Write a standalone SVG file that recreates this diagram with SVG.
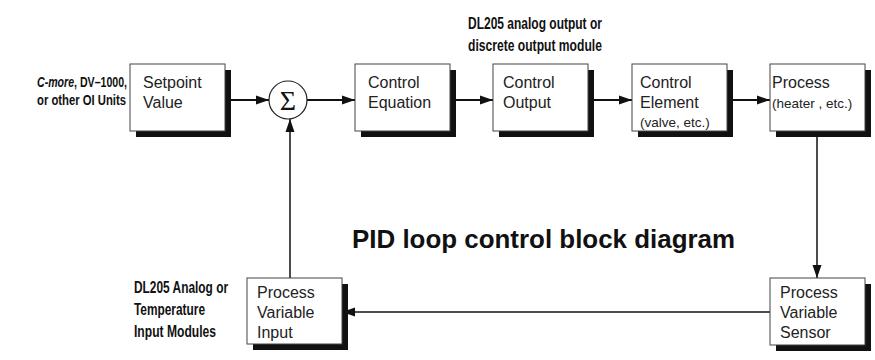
<svg xmlns="http://www.w3.org/2000/svg" width="875" height="360" viewBox="0 0 875 360">
<style>
.box{fill:#fff;stroke:#444;stroke-width:1}
.sh{fill:#111}
.t{font-family:"Liberation Sans",Arial,sans-serif;font-size:16px;fill:#222}
.s{font-family:"Liberation Sans",Arial,sans-serif;font-size:13.5px;fill:#222}
.lab{font-family:"Liberation Sans",Arial,sans-serif;font-size:16px;font-weight:bold;fill:#111}
.lab2{font-family:"Liberation Sans",Arial,sans-serif;font-size:15px;font-weight:bold;fill:#111}
.c{stroke:#111;stroke-width:2;fill:none}
.c1{stroke:#111;stroke-width:1.5;fill:none}
</style>
<defs>
<marker id="ah" markerUnits="userSpaceOnUse" markerWidth="14" markerHeight="10" refX="13" refY="5" orient="auto">
<path d="M0,0.5 L13,5 L0,9.5 z" fill="#111"/>
</marker>
</defs>
<rect width="875" height="360" fill="#fff"/>

<g id="labels">
<text class="lab2" transform="translate(37,87) scale(0.72,1)" textLength="125" lengthAdjust="spacingAndGlyphs"><tspan font-style="italic">C-more</tspan>, DV–1000,</text>
<text class="lab2" transform="translate(37,105) scale(0.72,1)" textLength="123.6" lengthAdjust="spacingAndGlyphs">or other OI Units</text>
<text class="lab" transform="translate(468,29) scale(0.72,1)" textLength="186" lengthAdjust="spacingAndGlyphs">DL205 analog output or</text>
<text class="lab" transform="translate(468,51) scale(0.72,1)" textLength="186" lengthAdjust="spacingAndGlyphs">discrete output module</text>
<text class="lab" transform="translate(134,293) scale(0.72,1)" textLength="130.6" lengthAdjust="spacingAndGlyphs">DL205 Analog or</text>
<text class="lab" transform="translate(134,315) scale(0.72,1)" textLength="98.6" lengthAdjust="spacingAndGlyphs">Temperature</text>
<text class="lab" transform="translate(134,337) scale(0.72,1)" textLength="113.9" lengthAdjust="spacingAndGlyphs">Input Modules</text>
<text x="352" y="248" font-family="Liberation Sans,Arial,sans-serif" font-size="25" font-weight="bold" fill="#111" textLength="383" lengthAdjust="spacingAndGlyphs">PID loop control block diagram</text>
</g>

<g id="connectors">
<line class="c" x1="225" y1="100" x2="269" y2="100" marker-end="url(#ah)"/>
<line class="c" x1="307" y1="100" x2="355" y2="100" marker-end="url(#ah)"/>
<line class="c" x1="450" y1="100" x2="493" y2="100" marker-end="url(#ah)"/>
<line class="c" x1="588" y1="100" x2="632" y2="100" marker-end="url(#ah)"/>
<line class="c" x1="727" y1="100" x2="770" y2="100" marker-end="url(#ah)"/>
<line class="c1" x1="817" y1="131" x2="817" y2="278" marker-end="url(#ah)"/>
<line class="c1" x1="770" y1="312" x2="342" y2="312" marker-end="url(#ah)"/>
<line class="c1" x1="290" y1="278" x2="290" y2="119" marker-end="url(#ah)"/>
</g>

<g id="setpoint">
<rect class="sh" x="136" y="70" width="95" height="67"/>
<rect class="box" x="130" y="64" width="95" height="67"/>
<text class="t" x="143" y="88">Setpoint</text>
<text class="t" x="143" y="108">Value</text>
</g>

<g id="sum">
<circle cx="288" cy="100" r="19" fill="#fff" stroke="#222" stroke-width="1.2"/>
<text x="288" y="110" text-anchor="middle" font-family="Liberation Serif,serif" font-size="28" fill="#111">Σ</text>
</g>

<g id="control-equation">
<rect class="sh" x="361" y="70" width="95" height="67"/>
<rect class="box" x="355" y="64" width="95" height="67"/>
<text class="t" x="368" y="88">Control</text>
<text class="t" x="368" y="108">Equation</text>
</g>

<g id="control-output">
<rect class="sh" x="499" y="70" width="95" height="67"/>
<rect class="box" x="493" y="64" width="95" height="67"/>
<text class="t" x="503" y="88">Control</text>
<text class="t" x="503" y="108">Output</text>
</g>

<g id="control-element">
<rect class="sh" x="638" y="70" width="95" height="67"/>
<rect class="box" x="632" y="64" width="95" height="67"/>
<text class="t" x="640" y="88">Control</text>
<text class="t" x="640" y="108">Element</text>
<text class="s" x="640" y="127">(valve, etc.)</text>
</g>

<g id="process">
<rect class="sh" x="776" y="70" width="95" height="67"/>
<rect class="box" x="770" y="64" width="95" height="67"/>
<text class="t" x="772" y="88">Process</text>
<text class="s" x="772" y="108">(heater , etc.)</text>
</g>

<g id="pv-sensor">
<rect class="sh" x="776" y="284" width="95" height="67"/>
<rect class="box" x="770" y="278" width="95" height="67"/>
<text class="t" x="780" y="298">Process</text>
<text class="t" x="780" y="318">Variable</text>
<text class="t" x="780" y="338">Sensor</text>
</g>

<g id="pv-input">
<rect class="sh" x="253" y="284" width="95" height="66"/>
<rect class="box" x="247" y="278" width="95" height="66"/>
<text class="t" x="257" y="298">Process</text>
<text class="t" x="257" y="318">Variable</text>
<text class="t" x="257" y="338">Input</text>
</g>
</svg>
